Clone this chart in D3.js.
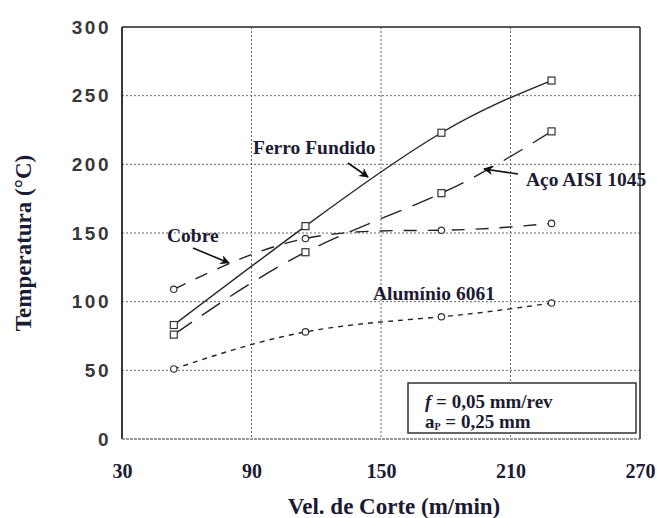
<!DOCTYPE html>
<html>
<head>
<meta charset="utf-8">
<script src="https://cdn.jsdelivr.net/npm/d3@7"></script>
<style>
  body { margin: 0; background: #fff; }
  svg { display: block; }
</style>
</head>
<body>
<div id="chart"></div>
<script>
// cutting speeds (m/min) where measurements were taken
var velocidades = [54, 115, 178, 229];

// temperatures (C) per material
var ferroFundido = [83, 155, 223, 261];
var acoAISI1045 = [76, 136, 179, 224];
var cobre = [109, 146, 152, 157];
var aluminio6061 = [51, 78, 89, 99];

var xTicks = [30, 90, 150, 210, 270];
var yTicks = [0, 50, 100, 150, 200, 250, 300];

// canvas size and plot box (note: "top" is a reserved window name)
var W = 657, H = 518;
var pLeft = 122, pRight = 640, pTop = 27, pBottom = 439;

var svg = d3.select('#chart').append('svg')
  .attr('width', W).attr('height', H);

var x = d3.scaleLinear().domain([30, 270]).range([pLeft, pRight]);
var y = d3.scaleLinear().domain([0, 300]).range([pBottom, pTop]);

var ink = '#1b1b33';
var serif = 'Liberation Serif, Times New Roman, serif';

// grid
svg.append('g').selectAll('line').data(xTicks.slice(1, -1)).enter().append('line')
  .attr('x1', function(d) { return x(d); }).attr('x2', function(d) { return x(d); })
  .attr('y1', pTop).attr('y2', pBottom)
  .attr('stroke', '#666').attr('stroke-width', 1).attr('stroke-dasharray', '2,2');
svg.append('g').selectAll('line').data(yTicks.slice(1, -1)).enter().append('line')
  .attr('x1', pLeft).attr('x2', pRight)
  .attr('y1', function(d) { return y(d); }).attr('y2', function(d) { return y(d); })
  .attr('stroke', '#666').attr('stroke-width', 1).attr('stroke-dasharray', '2,2');

// frame
svg.append('line').attr('x1', pLeft).attr('x2', pRight).attr('y1', pTop).attr('y2', pTop)
  .attr('stroke', '#222').attr('stroke-width', 1.6);
svg.append('line').attr('x1', pLeft).attr('x2', pLeft).attr('y1', pTop).attr('y2', pBottom)
  .attr('stroke', '#222').attr('stroke-width', 1.8);
svg.append('line').attr('x1', pRight).attr('x2', pRight).attr('y1', pTop).attr('y2', pBottom)
  .attr('stroke', '#333').attr('stroke-width', 1.6);
svg.append('line').attr('x1', pLeft).attr('x2', pRight).attr('y1', pBottom).attr('y2', pBottom)
  .attr('stroke', '#777').attr('stroke-width', 1.5).attr('stroke-dasharray', '3,1');

// y axis tick labels (sans)
var yAxis = d3.axisLeft(y).tickValues(yTicks).tickSize(0).tickPadding(11);
var gy = svg.append('g').attr('transform', 'translate(' + pLeft + ',0)').call(yAxis);
gy.select('.domain').remove();
gy.selectAll('text')
  .attr('font-family', 'Liberation Sans, Arial, sans-serif')
  .attr('font-size', '19px').attr('font-weight', 'bold')
  .attr('letter-spacing', '2.5px').attr('fill', '#383838');

// x axis tick labels (serif)
var xAxis = d3.axisBottom(x).tickValues(xTicks).tickSize(0).tickPadding(25);
var gx = svg.append('g').attr('transform', 'translate(0,' + pBottom + ')').call(xAxis);
gx.select('.domain').remove();
gx.selectAll('text')
  .attr('font-family', serif)
  .attr('font-size', '20px').attr('font-weight', 'bold').attr('fill', ink);

// axis titles
svg.append('text').text('Vel. de Corte (m/min)')
  .attr('x', 394).attr('y', 514).attr('text-anchor', 'middle')
  .attr('font-family', serif)
  .attr('font-size', '23px').attr('font-weight', 'bold').attr('fill', ink);
svg.append('text').text('Temperatura (°C)')
  .attr('transform', 'translate(31,243) rotate(-90)').attr('text-anchor', 'middle')
  .attr('font-family', serif)
  .attr('font-size', '23px').attr('font-weight', 'bold').attr('fill', ink);

// series
var series = [
  { vals: ferroFundido, dash: null, mark: 'square' },
  { vals: acoAISI1045, dash: '22,12', mark: 'square' },
  { vals: cobre, dash: '13,11', mark: 'circle' },
  { vals: aluminio6061, dash: '5,5', mark: 'circle' }
];

var line = d3.line()
  .x(function(d) { return x(d[0]); })
  .y(function(d) { return y(d[1]); })
  .curve(d3.curveNatural);

series.forEach(function(s) {
  var pts = velocidades.map(function(v, i) { return [v, s.vals[i]]; });
  svg.append('path').datum(pts)
    .attr('d', line)
    .attr('fill', 'none').attr('stroke', '#222').attr('stroke-width', 1.4)
    .attr('stroke-dasharray', s.dash);
  if (s.mark == 'square') {
    svg.selectAll(null).data(pts).enter().append('rect')
      .attr('x', function(d) { return x(d[0]) - 3.5; })
      .attr('y', function(d) { return y(d[1]) - 3.5; })
      .attr('width', 7).attr('height', 7)
      .attr('fill', '#fff').attr('stroke', '#333').attr('stroke-width', 1.2);
  } else {
    svg.selectAll(null).data(pts).enter().append('circle')
      .attr('cx', function(d) { return x(d[0]); })
      .attr('cy', function(d) { return y(d[1]); })
      .attr('r', 3.2)
      .attr('fill', '#fff').attr('stroke', '#333').attr('stroke-width', 1.2);
  }
});

// annotation labels
var labelFont = function(sel) {
  sel.attr('font-family', serif)
    .attr('font-size', '19.5px').attr('font-weight', 'bold').attr('fill', ink);
};
var labels = [
  { t: 'Ferro Fundido', x: 253, y: 154 },
  { t: 'Aço AISI 1045', x: 526, y: 186 },
  { t: 'Cobre', x: 167, y: 242 },
  { t: 'Alumínio 6061', x: 373, y: 300 }
];
labels.forEach(function(l) {
  svg.append('text').text(l.t).attr('x', l.x).attr('y', l.y).call(labelFont);
});

// arrows
var defs = svg.append('defs');
defs.append('marker').attr('id', 'arr')
  .attr('viewBox', '0 0 10 10').attr('refX', 9).attr('refY', 5)
  .attr('markerWidth', 7).attr('markerHeight', 6).attr('orient', 'auto')
  .append('path').attr('d', 'M0,0 L10,5 L0,10 L3,5 Z').attr('fill', '#111');
var arrows = [
  [348, 163, 368, 177],
  [518, 174, 484, 169],
  [193, 248, 229, 263]
];
arrows.forEach(function(a) {
  svg.append('line').attr('x1', a[0]).attr('y1', a[1]).attr('x2', a[2]).attr('y2', a[3])
    .attr('stroke', '#111').attr('stroke-width', 1.6).attr('marker-end', 'url(#arr)');
});

// conditions box
svg.append('rect').attr('x', 408).attr('y', 383).attr('width', 228).attr('height', 50)
  .attr('fill', '#fff').attr('stroke', '#333').attr('stroke-width', 1.5);
var t1 = svg.append('text').attr('x', 425).attr('y', 408).call(labelFont).attr('font-size', '19px');
t1.append('tspan').text('f').attr('font-style', 'italic');
t1.append('tspan').text(' = 0,05 mm/rev');
var t2 = svg.append('text').attr('x', 425).attr('y', 428).call(labelFont).attr('font-size', '19px');
t2.append('tspan').text('a');
t2.append('tspan').text('P').attr('font-size', '10px').attr('dy', 2);
t2.append('tspan').text(' = 0,25 mm').attr('dy', -2);
</script>
</body>
</html>
